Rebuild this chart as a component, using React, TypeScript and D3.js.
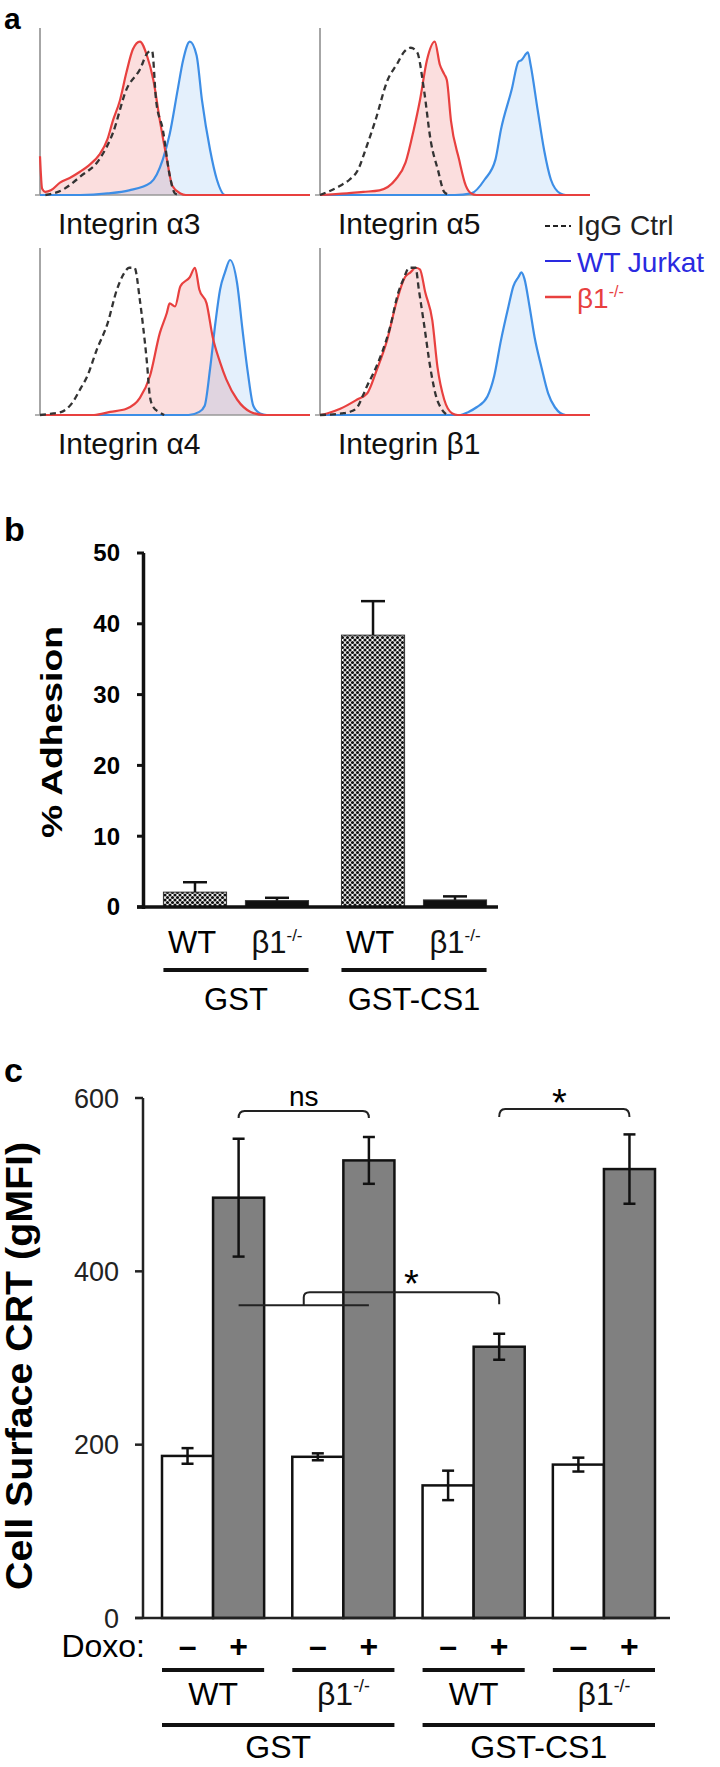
import React from "react";
import * as d3 from "d3";

const FONT = "'Liberation Sans', Arial, Helvetica, sans-serif";

// ---- panel a: flow histograms, points are [channel 0-100, % of max]
const histTitles = ["Integrin α3", "Integrin α5", "Integrin α4", "Integrin β1"];

const a3Igg = [[2, 0], [8, 3], [15, 12], [22, 23], [27, 40], [32, 68], [37, 81], [40, 92], [41.5, 93], [43, 61], [45.5, 42], [48, 13], [50, 1], [52, 0]];
const a3Ko = [[0, 25], [0.8, 4], [2, 2], [4, 3], [7.4, 8], [11, 11], [14.8, 15], [18, 19], [22, 26], [25, 36], [27, 48], [29.6, 61], [32, 79], [34.4, 94], [37, 99], [39.6, 90], [42, 74], [44.4, 48], [47, 23], [49, 6], [52, 1], [54, 0], [100, 0]];
const a3Wt = [[0, 0], [15, 0], [25, 1], [33, 3], [41, 8], [45.5, 23], [48, 39], [51, 68], [53, 87], [55.5, 99], [58, 90], [60, 61], [63, 29], [65.5, 10], [68.5, 0], [100, 0]];

const a5Igg = [[0, 0], [7.5, 6], [11, 10], [14, 16], [17, 30], [20.5, 48], [25, 74], [28.7, 85], [31, 92], [33.6, 95], [36, 92], [38.5, 68], [41, 35], [43.7, 16], [46, 2], [48, 0]];
const a5Ko = [[0, 0], [10, 1], [16, 2], [22, 3], [28, 10], [31.7, 21], [34.7, 42], [37, 61], [39.6, 87], [42.5, 99], [44.4, 84], [46, 78], [47, 74], [48.5, 48], [51.5, 23], [54, 6], [56, 1], [58, 0], [100, 0]];
const a5Wt = [[0, 0], [50, 0], [56, 1], [61, 10], [65, 23], [67, 42], [71, 68], [73.5, 86], [74.6, 87], [77, 92], [78, 84], [80.6, 55], [83, 29], [85.5, 10], [89, 1], [91, 0], [100, 0]];

const a4Igg = [[0, 0], [5, 1], [8, 2], [12, 8], [15, 17], [17.5, 25], [21, 42], [25, 59], [28.5, 81], [31, 91], [33, 95], [35, 95], [37, 74], [38.2, 57], [39.6, 34], [40.7, 12], [42, 5], [44, 2], [46, 0]];
const a4Ko = [[0, 0], [20, 0], [26, 2], [32, 4], [37, 11], [40.7, 25], [44.4, 53], [47, 66], [48, 72], [50, 70], [52, 83], [55.5, 89], [57.4, 95], [59, 81], [61.7, 72], [64, 50], [66.7, 34], [69, 23], [73, 10], [78, 2], [83, 0], [100, 0]];
const a4Wt = [[0, 0], [55, 0], [59, 2], [61, 6], [63, 30], [65, 60], [66.7, 81], [68.5, 92], [70.4, 100], [73, 85], [75, 55], [77, 27], [79, 6], [81.5, 1], [84, 0], [100, 0]];

const b1Igg = [[0, 0], [8, 1], [11, 2], [13.8, 5], [16, 13], [17.5, 19], [19.8, 27], [26, 57], [29, 79], [31, 88], [33, 95], [35.4, 95], [36.6, 81], [38.5, 59], [41, 29], [43, 12], [45, 4], [47, 0]];
const b1Ko = [[0, 0], [2.6, 1], [7.5, 4], [13.8, 10], [17.5, 14], [21, 29], [24.8, 48], [28.5, 74], [31.5, 89], [33.5, 92], [35.4, 95], [37, 94], [39, 79], [41.6, 61], [43.5, 31], [46, 10], [49, 1], [51, 0], [100, 0]];
const b1Wt = [[0, 0], [52, 0], [55, 2], [58, 5], [62, 12], [64.5, 25], [67, 48], [69.8, 70], [71.6, 83], [73.5, 89], [74.6, 92], [75.7, 88], [77.6, 70], [79.5, 50], [82, 31], [84.5, 14], [87, 5], [91, 0], [100, 0]];

const iggCurves = [a3Igg, a5Igg, a4Igg, b1Igg];
const koCurves = [a3Ko, a5Ko, a4Ko, b1Ko];
const wtCurves = [a3Wt, a5Wt, a4Wt, b1Wt];

const legendLabels = ["IgG Ctrl", "WT Jurkat", "β1"];

// ---- panel b: adhesion
const adhesionGroups = ["GST", "GST-CS1"];
const adhesionCells = ["WT", "β1"];
const adhesionMean = [2.1, 0.9, 38.4, 1.0];
const adhesionErr = [1.4, 0.4, 4.8, 0.5];
const adhesionTicks = [0, 10, 20, 30, 40, 50];

// ---- panel c: surface CRT
const crtGroups = ["GST", "GST-CS1"];
const crtCells = ["WT", "β1"];
const doxo = ["–", "+"];
const crtMean = [187, 485, 186, 528, 153, 313, 177, 518];
const crtErr = [9, 68, 4, 27, 17, 15, 8, 40];
const crtTicks = [0, 200, 400, 600];

const RED = "#e8403f";
const BLUE = "#3d8ee6";

type P = number[];

function HistPanel({ i }: { i: number }) {
  const col = i % 2;
  const row = Math.floor(i / 2);
  const x0 = [40, 320][col];
  const base = [195, 415][row];
  const x = d3.scaleLinear().domain([0, 100]).range([x0, x0 + 270]);
  const y = d3.scaleLinear().domain([0, 100]).range([base, base - 155]);
  const area = d3.area<P>().x(d => x(d[0])).y0(base).y1(d => y(d[1])).curve(d3.curveMonotoneX);
  const line = d3.line<P>().x(d => x(d[0])).y(d => y(d[1])).curve(d3.curveMonotoneX);
  return (
    <g>
      <path d={area(koCurves[i]) || ""} fill="rgba(236,90,90,0.2)" />
      <path d={area(wtCurves[i]) || ""} fill="rgba(90,160,236,0.16)" />
      <line x1={x0} x2={x0} y1={base - 167} y2={base} stroke="#888" strokeWidth={1.5} />
      <line x1={x0 - 5} x2={x0 + 270} y1={base} y2={base} stroke="#999" strokeWidth={1.5} />
      <path d={line(wtCurves[i]) || ""} fill="none" stroke={BLUE} strokeWidth={2.2} />
      <path d={line(koCurves[i]) || ""} fill="none" stroke={RED} strokeWidth={2.2} />
      <path d={line(iggCurves[i]) || ""} fill="none" stroke="#333" strokeWidth={2.3} strokeDasharray="6,4" />
      <text x={x0 + 18} y={base + 39} fontSize={30} fill="#111">{histTitles[i]}</text>
    </g>
  );
}

function Beta({ x, y, size, fill = "#111" }: any) {
  return (
    <text x={x} y={y} fontSize={size} textAnchor="middle" fill={fill}>
      β1<tspan dy={-size * 0.4} fontSize={size * 0.55}>-/-</tspan>
    </text>
  );
}

export default function App() {
  // panel b scales
  const yB = d3.scaleLinear().domain([0, 50]).range([907, 553]);
  const outerB = d3.scaleBand().domain(adhesionGroups).range([154, 496]).paddingInner(0.079);
  const innerB = d3.scaleBand().domain(adhesionCells).range([0, outerB.bandwidth()]).paddingInner(0.23).paddingOuter(0.115);
  const barsB = adhesionGroups.flatMap((g, gi) =>
    adhesionCells.map((c, ci) => ({ g, c, v: adhesionMean[gi * 2 + ci], e: adhesionErr[gi * 2 + ci], x: (outerB(g) || 0) + (innerB(c) || 0) }))
  );

  // panel c scales
  const yC = d3.scaleLinear().domain([0, 600]).range([1618, 1098]);
  const pairs = crtGroups.flatMap(g => crtCells.map(c => g + "|" + c));
  const pairX = d3.scaleBand().domain(pairs).range([162, 655]).paddingInner(0.216);
  const doxX = d3.scaleBand().domain(doxo).range([0, pairX.bandwidth()]);
  const barsC = pairs.flatMap((p, pi) =>
    doxo.map((d, di) => ({ p, d, v: crtMean[pi * 2 + di], e: crtErr[pi * 2 + di], x: (pairX(p) || 0) + (doxX(d) || 0) }))
  );
  const bw = doxX.bandwidth();
  const cx = (k: number) => barsC[k].x + bw / 2;
  const groupSpan = (g: string) => {
    const ps = pairs.filter(p => p.startsWith(g + "|"));
    return [pairX(ps[0]) || 0, (pairX(ps[ps.length - 1]) || 0) + pairX.bandwidth()];
  };

  const midStem = (cx(1) + cx(3)) / 2;

  return (
    <svg width={720} height={1767} style={{ position: "absolute", left: 0, top: 0, fontFamily: FONT }}>
      <defs>
        <pattern id="dots" width={5} height={5} patternUnits="userSpaceOnUse">
          <rect width={5} height={5} fill="#fff" />
          <circle cx={0} cy={0} r={1.6} fill="#111" />
          <circle cx={5} cy={0} r={1.6} fill="#111" />
          <circle cx={0} cy={5} r={1.6} fill="#111" />
          <circle cx={5} cy={5} r={1.6} fill="#111" />
          <circle cx={2.5} cy={2.5} r={1.6} fill="#111" />
        </pattern>
      </defs>
      <rect width={720} height={1767} fill="#fff" />

      {/* ---------- a ---------- */}
      <text x={4} y={29} fontSize={30} fontWeight="bold">a</text>
      {[0, 1, 2, 3].map(i => <HistPanel key={i} i={i} />)}
      <g>
        <line x1={545} x2={571} y1={226} y2={226} stroke="#222" strokeWidth={2} strokeDasharray="5,3" />
        <text x={577} y={235} fontSize={28} fill="#222">{legendLabels[0]}</text>
        <line x1={545} x2={571} y1={261} y2={261} stroke="#2a2ae0" strokeWidth={2} />
        <text x={577} y={272} fontSize={28} fill="#2a2ae0">{legendLabels[1]}</text>
        <line x1={545} x2={571} y1={297} y2={297} stroke={RED} strokeWidth={2.5} />
        <text x={577} y={308} fontSize={28} fill={RED}>
          {legendLabels[2]}<tspan dy={-11} fontSize={16}>-/-</tspan>
        </text>
      </g>

      {/* ---------- b ---------- */}
      <text x={4} y={541} fontSize={34} fontWeight="bold">b</text>
      <text transform={`translate(62,${732}) rotate(-90)`} textAnchor="middle" fontSize={30} fontWeight="bold"
        textLength={212} lengthAdjust="spacingAndGlyphs">% Adhesion</text>
      {barsB.map((b, k) => (
        <g key={k}>
          <rect x={b.x} y={yB(b.v)} width={innerB.bandwidth()} height={yB(0) - yB(b.v)}
            fill={b.c === "WT" ? "url(#dots)" : "#111"} stroke="#333" strokeWidth={1} />
          <line x1={b.x + innerB.bandwidth() / 2} x2={b.x + innerB.bandwidth() / 2} y1={yB(b.v)} y2={yB(b.v + b.e)} stroke="#111" strokeWidth={2.5} />
          <line x1={b.x + innerB.bandwidth() / 2 - 12} x2={b.x + innerB.bandwidth() / 2 + 12} y1={yB(b.v + b.e)} y2={yB(b.v + b.e)} stroke="#111" strokeWidth={2.5} />
        </g>
      ))}
      <line x1={143.5} x2={143.5} y1={yB(50)} y2={yB(0) + 2} stroke="#111" strokeWidth={3.5} />
      <line x1={137} x2={498} y1={yB(0)} y2={yB(0)} stroke="#111" strokeWidth={3.5} />
      {adhesionTicks.map(t => (
        <g key={t}>
          <line x1={137} x2={144} y1={yB(t)} y2={yB(t)} stroke="#111" strokeWidth={3} />
          <text x={120} y={yB(t)} dy="0.35em" textAnchor="end" fontSize={24} fontWeight="bold">{t}</text>
        </g>
      ))}
      {barsB.map((b, k) => {
        const mx = b.x + innerB.bandwidth() / 2;
        return b.c === "WT"
          ? <text key={k} x={mx - 3} y={953} fontSize={31} textAnchor="middle">WT</text>
          : <Beta key={k} x={mx} y={953} size={31} />;
      })}
      {adhesionGroups.map(g => {
        const x1 = (outerB(g) || 0) + (innerB("WT") || 0);
        const x2 = (outerB(g) || 0) + (innerB("β1") || 0) + innerB.bandwidth();
        return (
          <g key={g}>
            <line x1={x1} x2={x2} y1={970} y2={970} stroke="#111" strokeWidth={4} />
            <text x={(x1 + x2) / 2} y={1010} fontSize={31} textAnchor="middle">{g}</text>
          </g>
        );
      })}

      {/* ---------- c ---------- */}
      <text x={4} y={1082} fontSize={34} fontWeight="bold">c</text>
      <text transform={`translate(32,${1366}) rotate(-90)`} textAnchor="middle" fontSize={36} fontWeight="bold"
        textLength={448} lengthAdjust="spacingAndGlyphs">Cell Surface CRT (gMFI)</text>
      {barsC.map((b, k) => (
        <g key={k}>
          <rect x={b.x} y={yC(b.v)} width={bw} height={yC(0) - yC(b.v)}
            fill={b.d === "+" ? "#808080" : "#fff"} stroke="#111" strokeWidth={2.5} />
          <line x1={b.x + bw / 2} x2={b.x + bw / 2} y1={yC(b.v - b.e)} y2={yC(b.v + b.e)} stroke="#111" strokeWidth={2.5} />
          <line x1={b.x + bw / 2 - 6} x2={b.x + bw / 2 + 6} y1={yC(b.v + b.e)} y2={yC(b.v + b.e)} stroke="#111" strokeWidth={2.5} />
          <line x1={b.x + bw / 2 - 6} x2={b.x + bw / 2 + 6} y1={yC(b.v - b.e)} y2={yC(b.v - b.e)} stroke="#111" strokeWidth={2.5} />
        </g>
      ))}
      <line x1={143} x2={143} y1={yC(600)} y2={yC(0)} stroke="#222" strokeWidth={2.5} />
      <line x1={135} x2={670} y1={yC(0)} y2={yC(0)} stroke="#222" strokeWidth={2.5} />
      {crtTicks.map(t => (
        <g key={t}>
          <line x1={135} x2={143} y1={yC(t)} y2={yC(t)} stroke="#222" strokeWidth={2.5} />
          <text x={119} y={yC(t)} dy="0.36em" textAnchor="end" fontSize={27} fill="#222">{t}</text>
        </g>
      ))}

      {/* significance brackets */}
      <path d={`M${cx(1)},${yC(577)} q0,-7 6,-7 H${cx(3) - 6} q6,0 6,7`} fill="none" stroke="#222" strokeWidth={2} />
      <text x={(cx(1) + cx(3)) / 2} y={yC(591)} textAnchor="middle" fontSize={28}>ns</text>
      <path d={`M${cx(5)},${yC(578)} q0,-8 6,-8 H${cx(7) - 6} q6,0 6,8`} fill="none" stroke="#222" strokeWidth={2} />
      <text x={(cx(5) + cx(7)) / 2 - 5} y={yC(590) + 9} textAnchor="middle" fontSize={38}>*</text>
      <line x1={cx(1)} x2={cx(3)} y1={yC(361)} y2={yC(361)} stroke="#222" strokeWidth={2} />
      <path d={`M${midStem},${yC(361)} V${yC(376) + 5} q0,-5 6,-5 H${cx(5) - 6} q6,0 6,6 V${yC(362)}`} fill="none" stroke="#222" strokeWidth={2} />
      <text x={(midStem + cx(5)) / 2 + 10} y={yC(376) + 5} textAnchor="middle" fontSize={38}>*</text>

      {/* category labels */}
      <text x={145} y={1657} textAnchor="end" fontSize={32}>Doxo:</text>
      {barsC.map((b, k) => (
        <text key={k} x={b.x + bw / 2} y={1657} textAnchor="middle" fontSize={32} fontWeight="bold">{b.d}</text>
      ))}
      {pairs.map(p => {
        const x1 = pairX(p) || 0;
        const x2 = x1 + pairX.bandwidth();
        const cell = p.split("|")[1];
        return (
          <g key={p}>
            <line x1={x1} x2={x2} y1={1670} y2={1670} stroke="#111" strokeWidth={4} />
            {cell === "WT"
              ? <text x={(x1 + x2) / 2} y={1705} fontSize={32} textAnchor="middle">WT</text>
              : <Beta x={(x1 + x2) / 2} y={1705} size={32} />}
          </g>
        );
      })}
      {crtGroups.map(g => {
        const [x1, x2] = groupSpan(g);
        return (
          <g key={g}>
            <line x1={x1} x2={x2} y1={1725} y2={1725} stroke="#111" strokeWidth={4} />
            <text x={(x1 + x2) / 2} y={1758} fontSize={32} textAnchor="middle">{g}</text>
          </g>
        );
      })}
    </svg>
  );
}
